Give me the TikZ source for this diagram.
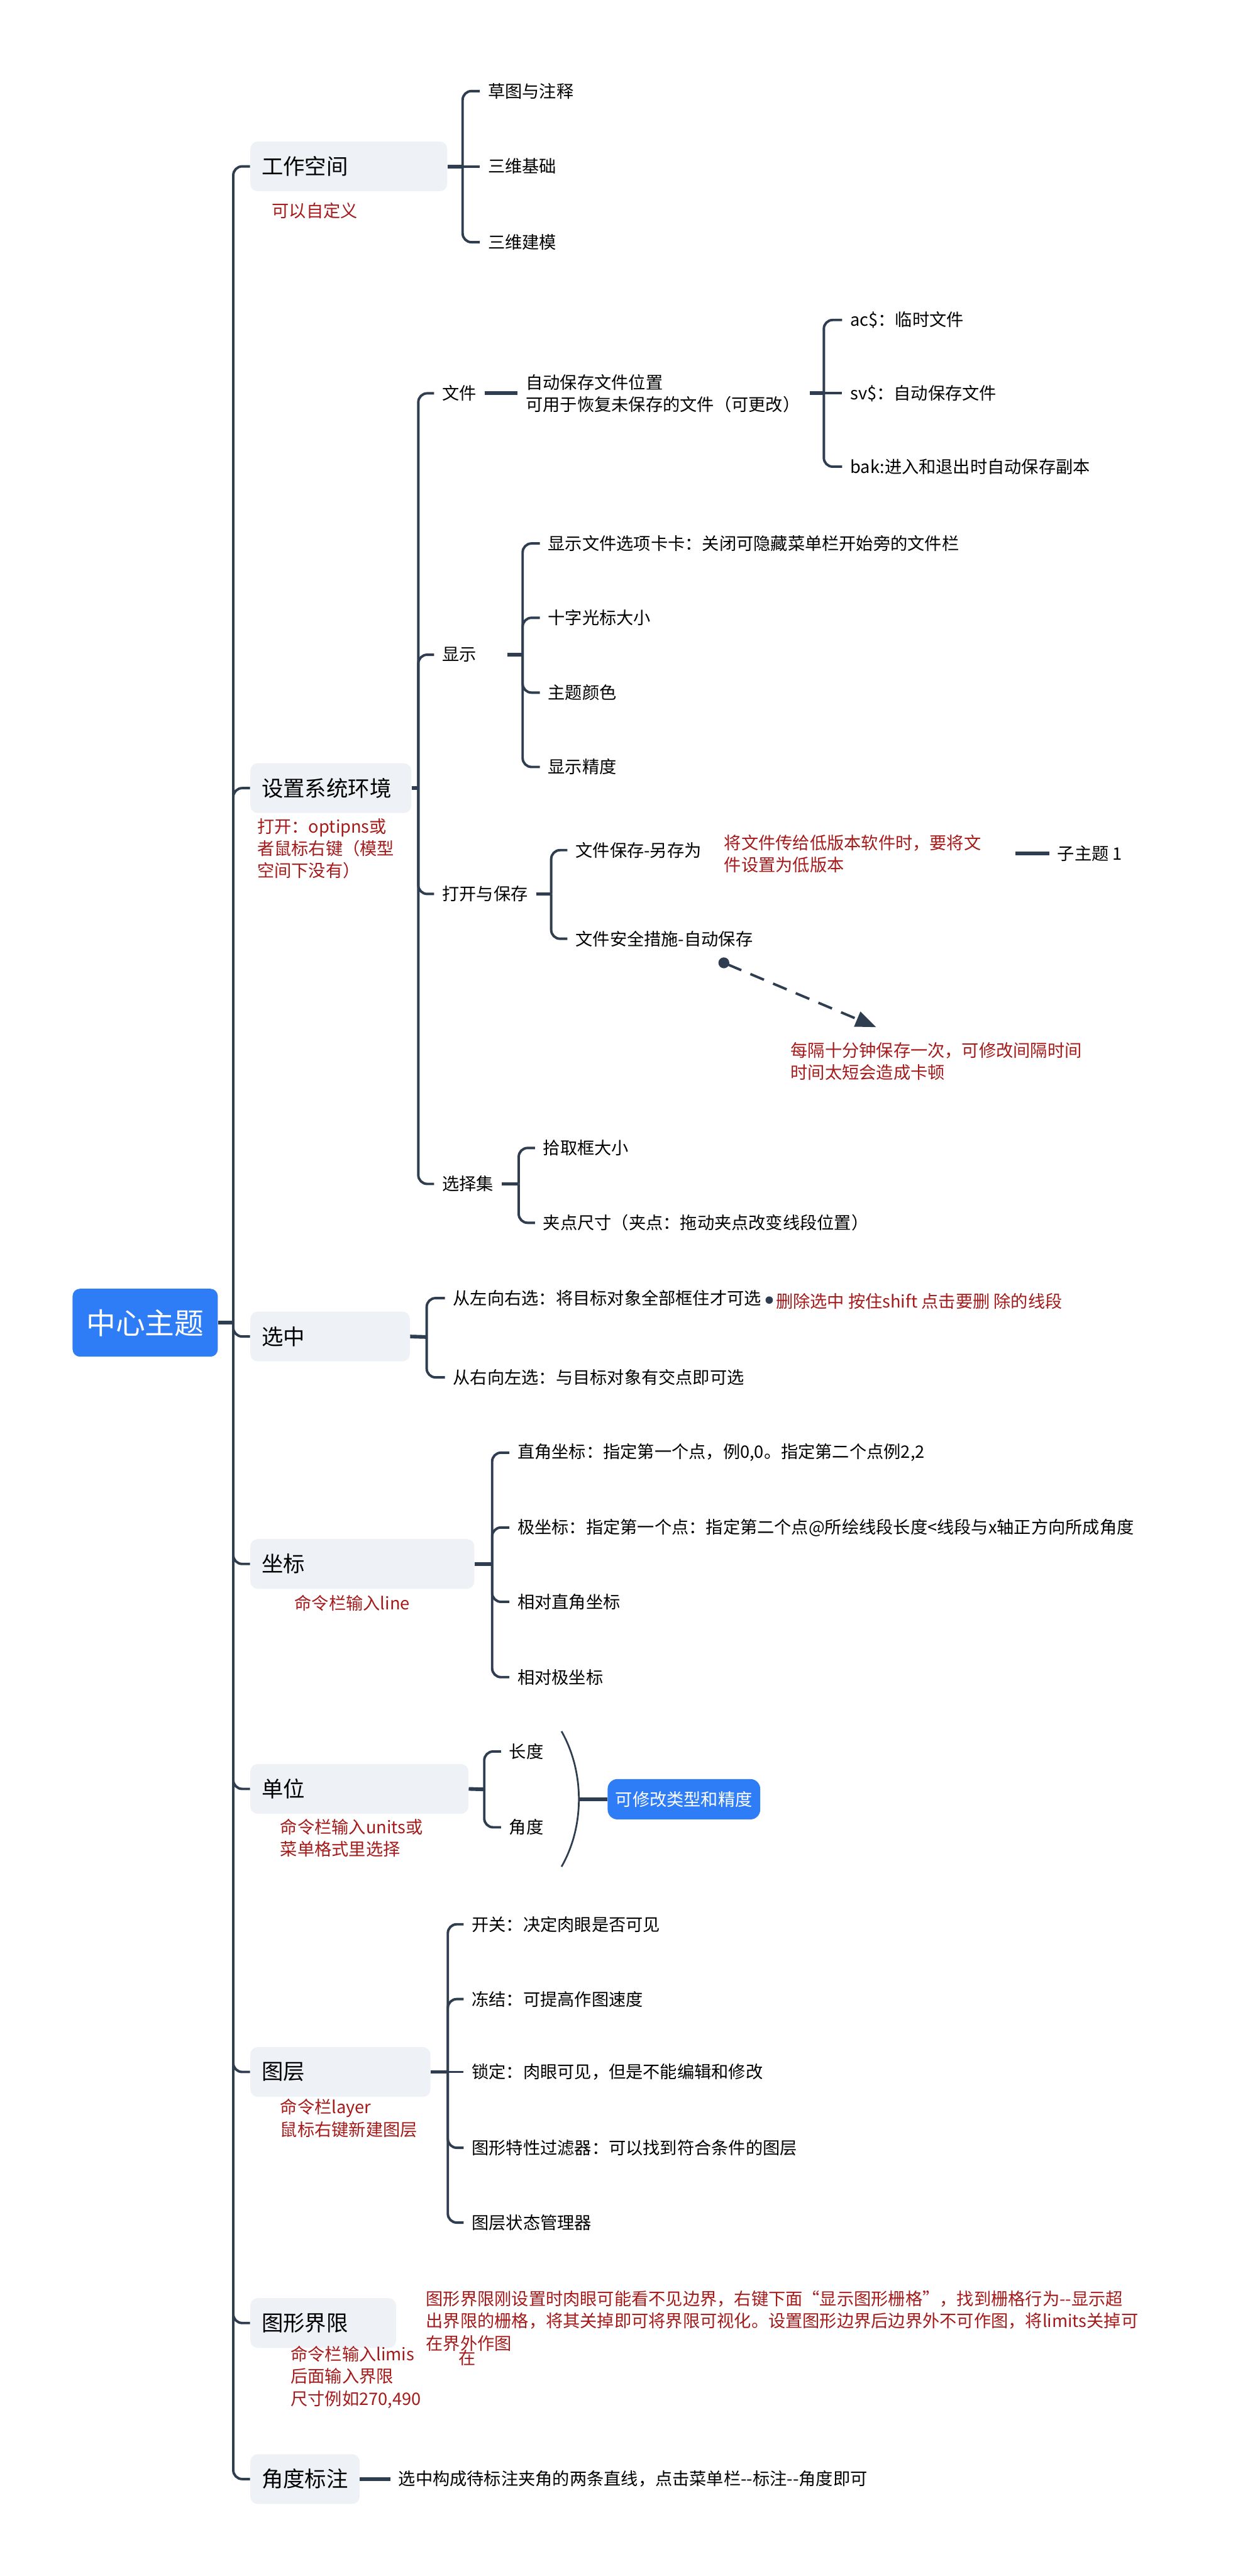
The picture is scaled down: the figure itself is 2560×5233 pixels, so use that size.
\documentclass[tikz,border=0pt]{standalone}
\usepackage{fontspec}
\setmainfont{Noto Sans CJK SC}
\usetikzlibrary{arrows.meta, calc}
\definecolor{linecol}{HTML}{2E3D4F}
\definecolor{topicbg}{HTML}{EEF1F5}
\definecolor{rootblue}{HTML}{2F7DF6}
\definecolor{notered}{HTML}{A51A1A}
\newcommand{\leaffont}{\fontsize{9.9}{12.8}\selectfont}

\begin{document}
\begin{tikzpicture}[x=0.1mm, y=-0.1mm,
        root/.style={fill=rootblue, text=white, rounded corners=1.5mm, minimum width=29.5mm,
                     minimum height=13.8mm, font=\fontsize{17}{20}\selectfont},
        topic/.style={fill=topicbg, rounded corners=1.5mm, anchor=west, minimum height=10.1mm,
                      inner xsep=2.3mm, align=left, font=\fontsize{12.5}{15}\selectfont},
        leaf/.style={anchor=west, inner xsep=1.6mm, align=left, font=\leaffont},
        note/.style={anchor=west, inner sep=0pt, align=left, text=notered, font=\leaffont},
        sumbox/.style={fill=rootblue, text=white, rounded corners=2mm, anchor=west,
                       minimum width=31mm, minimum height=8.2mm, font=\leaffont},
        link/.style={draw=linecol, line width=0.5mm, rounded corners=1.8mm},
        stub/.style={draw=linecol, line width=0.75mm},
        summ/.style={draw=linecol, line width=0.35mm},
        rel/.style={draw=linecol, line width=0.5mm, dash pattern=on 3mm off 2mm,
                    {Circle[length=2.2mm]}-{Triangle[length=4.2mm,width=3.2mm]}}
    ]
        \path[use as bounding box, fill=white] (0,0) rectangle (2560,5233);

        \node[root] (root) at (295,2687) {中心主题};
        \coordinate (trunk) at (474,2687);

        \node[topic, text width=35.4mm] (work) at (508,338) {工作空间};
        \node[topic, text width=28.1mm] (env) at (508,1601) {设置系统环境};
        \node[topic, text width=27.8mm] (sel) at (508,2715) {选中};
        \node[topic, text width=40.9mm] (coord) at (508,3177) {坐标};
        \node[topic, text width=39.7mm] (unit) at (508,3634) {单位};
        \node[topic, text width=32.0mm] (layer) at (508,4209) {图层};
        \node[topic, text width=25.0mm] (limit) at (508,4719) {图形界限};
        \node[topic, text width=17.6mm] (angle) at (508,5036) {角度标注};

        \draw[stub] (root) -- (trunk);
        \foreach \t in {work,env,sel,coord,unit,layer,limit,angle}
            \draw[link] (trunk) |- (\t.west);

        \node[note] (worknote) at (552,428) {可以自定义};
        \node[note] (envnote) at (522,1724) {打开：optipns或\\者鼠标右键（模型\\空间下没有）};
        \node[note] (coordnote) at (598,3256) {命令栏输入line};
        \node[note] (unitnote) at (569,3734) {命令栏输入units或\\菜单格式里选择};
        \node[note] (layernote) at (569,4303) {命令栏layer\\鼠标右键新建图层};
        \node[note] (limitnote) at (590,4829) {命令栏输入limis\\后面输入界限\\尺寸例如270,490};
        \node[note, anchor=center] (limitat) at (949,4790) {在};
        \node[note] (limittip) at (865,4715) {图形界限刚设置时肉眼可能看不见边界，右键下面“显示图形栅格”，找到栅格行为-{}-显示超\\出界限的栅格，将其关掉即可将界限可视化。设置图形边界后边界外不可作图，将limits关掉可\\在界外作图};

        % 工作空间
        \coordinate (workhub) at (940,338);
        \node[leaf] (sketch) at (975,185) {草图与注释};
        \node[leaf] (base3d) at (975,338) {三维基础};
        \node[leaf] (model3d) at (975,492) {三维建模};
        \draw[stub] (work.east) -- (workhub);
        \draw[link] (workhub) |- (sketch.west);
        \draw[link] (workhub) -- (base3d.west);
        \draw[link] (workhub) |- (model3d.west);

        % 设置系统环境
        \coordinate (envhub) at (850,1601);
        \node[leaf] (file) at (882,799) {文件};
        \node[leaf, text width=11.6mm] (disp) at (882,1330) {显示};
        \node[leaf] (open) at (882,1816) {打开与保存};
        \node[leaf] (selset) at (882,2405) {选择集};
        \draw[stub] (env.east) -- (envhub);
        \foreach \t in {file,disp,open,selset}
            \draw[link] (envhub) |- (\t.west);

        \node[leaf, text width=56mm] (autosave) at (1052,799) {自动保存文件位置\\可用于恢复未保存的文件（可更改）};
        \draw[stub] (file.east) -- (autosave.west);
        \coordinate (savehub) at (1674,799);
        \node[leaf] (acfile) at (1711,650) {ac\$：临时文件};
        \node[leaf] (svfile) at (1711,799) {sv\$：自动保存文件};
        \node[leaf] (bakfile) at (1711,948) {bak:进入和退出时自动保存副本};
        \draw[stub] (autosave.east) -- (savehub);
        \draw[link] (savehub) |- (acfile.west);
        \draw[link] (savehub) -- (svfile.west);
        \draw[link] (savehub) |- (bakfile.west);

        \coordinate (disphub) at (1062,1330);
        \node[leaf] (tabs) at (1097,1104) {显示文件选项卡卡：关闭可隐藏菜单栏开始旁的文件栏};
        \node[leaf] (cross) at (1097,1255) {十字光标大小};
        \node[leaf] (theme) at (1097,1407) {主题颜色};
        \node[leaf] (precis) at (1097,1558) {显示精度};
        \draw[stub] (disp.east) -- (disphub);
        \foreach \t in {tabs,cross,theme,precis}
            \draw[link] (disphub) |- (\t.west);

        \coordinate (openhub) at (1120,1816);
        \node[leaf] (saveas) at (1153,1727) {文件保存-另存为};
        \node[leaf] (safe) at (1153,1907) {文件安全措施-自动保存};
        \draw[stub] (open.east) -- (openhub);
        \draw[link] (openhub) |- (saveas.west);
        \draw[link] (openhub) |- (safe.west);

        \node[note, text width=59.1mm] (lowver) at (1471,1734) {将文件传给低版本软件时，要将文\\件设置为低版本};
        \node[leaf] (sub1) at (2132,1734) {子主题 1};
        \draw[stub] (lowver.east) -- (sub1.west);

        \node[note] (every) at (1606,2156) {每隔十分钟保存一次，可修改间隔时间\\时间太短会造成卡顿};
        \coordinate (relfrom) at ($(safe.south)+(111,16)$);
        \coordinate (relto) at ($(every.north)+(-122,-30)$);
        \draw[rel] (relfrom) -- (relto);

        \coordinate (selsethub) at (1054,2405);
        \node[leaf] (pick) at (1087,2332) {拾取框大小};
        \node[leaf] (grip) at (1087,2484) {夹点尺寸（夹点：拖动夹点改变线段位置）};
        \draw[stub] (selset.east) -- (selsethub);
        \draw[link] (selsethub) |- (pick.west);
        \draw[link] (selsethub) |- (grip.west);

        % 选中
        \coordinate (selhub) at (867,2716);
        \node[leaf] (l2r) at (904,2637) {从左向右选：将目标对象全部框住才可选};
        \node[leaf] (r2l) at (904,2798) {从右向左选：与目标对象有交点即可选};
        \draw[stub] (sel.east) -- (selhub);
        \draw[link] (selhub) |- (l2r.west);
        \draw[link] (selhub) |- (r2l.west);
        \node[circle, fill=linecol, inner sep=0pt, minimum size=1.5mm] (seldot) at (1563,2641) {};
        \node[note] (selnote) at (1576,2644) {删除选中 按住shift 点击要删 除的线段};

        % 坐标
        \coordinate (coordhub) at (1000,3177);
        \node[leaf] (rect) at (1035,2951) {直角坐标：指定第一个点，例0,0。指定第二个点例2,2};
        \node[leaf] (polar) at (1035,3103) {极坐标：指定第一个点：指定第二个点@所绘线段长度<线段与x轴正方向所成角度};
        \node[leaf] (relrect) at (1035,3254) {相对直角坐标};
        \node[leaf] (relpolar) at (1035,3407) {相对极坐标};
        \draw[stub] (coord.east) -- (coordhub);
        \foreach \t in {rect,polar,relrect,relpolar}
            \draw[link] (coordhub) |- (\t.west);

        % 单位
        \coordinate (unithub) at (984,3635);
        \node[leaf] (length) at (1018,3558) {长度};
        \node[leaf] (angdeg) at (1018,3712) {角度};
        \draw[stub] (unit.east) -- (unithub);
        \draw[link] (unithub) |- (length.west);
        \draw[link] (unithub) |- (angdeg.west);
        \coordinate (sumtop) at (1141,3517);
        \coordinate (sumbot) at (1141,3792);
        \coordinate (summid) at (1176,3655);
        \draw[summ] (sumtop) .. controls (1188,3600) and (1188,3710) .. (sumbot);
        \node[sumbox] (modify) at (1234,3655) {可修改类型和精度};
        \draw[stub] (summid) -- (modify.west);

        % 图层
        \coordinate (layerhub) at (910,4209);
        \node[leaf] (onoff) at (942,3909) {开关：决定肉眼是否可见};
        \node[leaf] (freeze) at (942,4061) {冻结：可提高作图速度};
        \node[leaf] (lock) at (942,4209) {锁定：肉眼可见，但是不能编辑和修改};
        \node[leaf] (filter) at (942,4363) {图形特性过滤器：可以找到符合条件的图层};
        \node[leaf] (state) at (942,4515) {图层状态管理器};
        \draw[stub] (layer.east) -- (layerhub);
        \draw[link] (layerhub) -- (lock.west);
        \foreach \t in {onoff,freeze,filter,state}
            \draw[link] (layerhub) |- (\t.west);

        % 角度标注
        \node[leaf] (anglehow) at (793,5036) {选中构成待标注夹角的两条直线，点击菜单栏-{}-标注-{}-角度即可};
        \draw[stub] (angle.east) -- (anglehow.west);
    \end{tikzpicture}
\end{document}
